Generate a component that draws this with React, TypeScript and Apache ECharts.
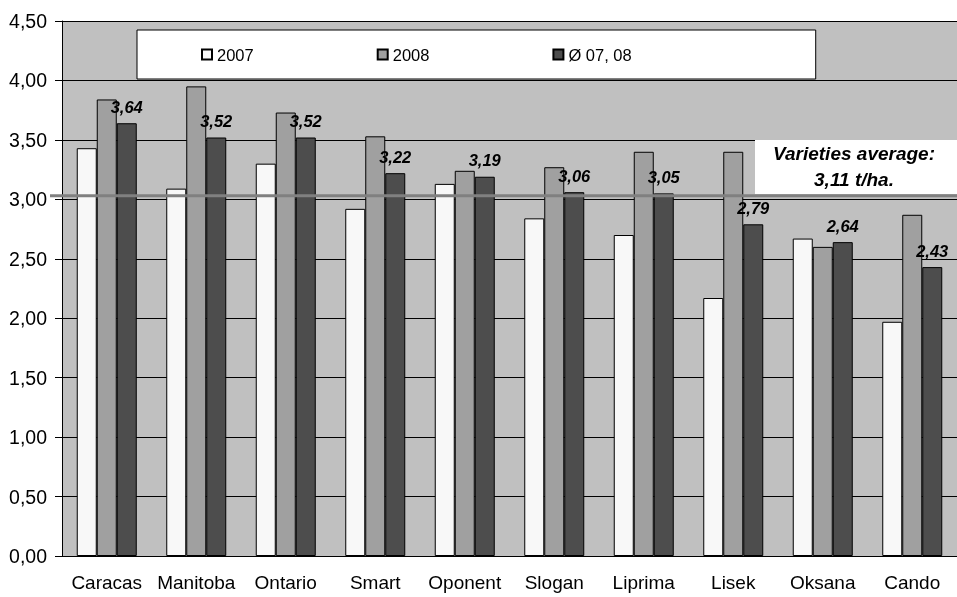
import React, { useEffect, useRef } from "react";
import * as echarts from "echarts";

const categories = ["Caracas", "Manitoba", "Ontario", "Smart", "Oponent", "Slogan", "Liprima", "Lisek", "Oksana", "Cando"];
const values2007 = [3.43, 3.09, 3.30, 2.92, 3.13, 2.84, 2.70, 2.17, 2.67, 1.97];
const values2008 = [3.84, 3.95, 3.73, 3.53, 3.24, 3.27, 3.40, 3.40, 2.60, 2.87];
const valuesAvg = [3.64, 3.52, 3.52, 3.22, 3.19, 3.06, 3.05, 2.79, 2.64, 2.43];
const seriesNames = ["2007", "2008", "Ø 07, 08"];
const averageLineValue = 3.03;
const averageText = ["Varieties average:", "3,11 t/ha."];

const FONT = "'Liberation Sans', Arial, sans-serif";
const fmt = (v: number) => v.toFixed(2).replace(".", ",");

export default function App() {
  const ref = useRef<HTMLDivElement>(null);
  useEffect(() => {
    if (!ref.current) return;
    const chart = echarts.init(ref.current, null, { renderer: "svg" });
    const barBase = {
      type: "bar" as const,
      barWidth: 20,
      barGap: "0%",
      itemStyle: { borderColor: "#000", borderWidth: 1 },
    };
    chart.setOption({
      animation: false,
      textStyle: { fontFamily: FONT },
      grid: { left: 62, right: -2, top: 21, bottom: 41, show: true, backgroundColor: "#C0C0C0", borderWidth: 0 },
      legend: {
        left: 137,
        top: 30,
        backgroundColor: "#fff",
        borderColor: "#000",
        borderWidth: 1,
        padding: [16, 184, 16, 64],
        itemGap: 123,
        itemWidth: 10,
        itemHeight: 10,
        icon: "rect",
        textStyle: { fontSize: 16.5, color: "#000", fontFamily: FONT },
        data: seriesNames,
      },
      xAxis: {
        type: "category",
        data: categories,
        axisLine: { lineStyle: { color: "#000" } },
        axisTick: { length: 6, lineStyle: { color: "#000" } },
        axisLabel: { interval: 0, fontSize: 19, color: "#000", margin: 17, fontFamily: FONT },
      },
      yAxis: {
        type: "value",
        min: 0,
        max: 4.5,
        interval: 0.5,
        axisLine: { show: true, lineStyle: { color: "#000" } },
        axisTick: { show: true, length: 7, lineStyle: { color: "#000" } },
        axisLabel: { fontSize: 19.5, color: "#000", margin: 15, formatter: (v: number) => fmt(v), fontFamily: FONT },
        splitLine: { lineStyle: { color: "#000", width: 1 } },
      },
      series: [
        { ...barBase, name: seriesNames[0], data: values2007, itemStyle: { ...barBase.itemStyle, color: "#F8F8F8" } },
        { ...barBase, name: seriesNames[1], data: values2008, itemStyle: { ...barBase.itemStyle, color: "#A0A0A0" } },
        {
          ...barBase,
          name: seriesNames[2],
          data: valuesAvg,
          itemStyle: { ...barBase.itemStyle, color: "#4D4D4D" },
          label: {
            show: true,
            position: "top",
            distance: 8,
            fontSize: 16.5,
            fontWeight: "bold",
            fontStyle: "italic",
            color: "#000",
            fontFamily: FONT,
            formatter: (p: any) => fmt(p.value),
          },
        },
      ],
    });
    const y = chart.convertToPixel({ yAxisIndex: 0 }, averageLineValue) as number;
    const textStyle = {
      align: "center",
      verticalAlign: "middle",
      fontSize: 19,
      fontWeight: "bold",
      fontStyle: "italic",
      fontFamily: FONT,
      fill: "#000",
    };
    chart.setOption({
      graphic: [
        {
          type: "line",
          z: 100,
          shape: { x1: 50, y1: y, x2: 957, y2: y },
          style: { stroke: "#808080", lineWidth: 3 },
        },
        {
          type: "rect",
          z: 99,
          shape: { x: 755, y: 140, width: 210, height: 54 },
          style: { fill: "#fff", stroke: null },
        },
        { type: "text", z: 101, x: 854, y: 153, style: { ...textStyle, text: averageText[0] } },
        { type: "text", z: 101, x: 854, y: 179, style: { ...textStyle, text: averageText[1] } },
      ],
    });
    return () => chart.dispose();
  }, []);
  return <div ref={ref} style={{ position: "fixed", left: 0, top: 0, width: 957, height: 597 }} />;
}
